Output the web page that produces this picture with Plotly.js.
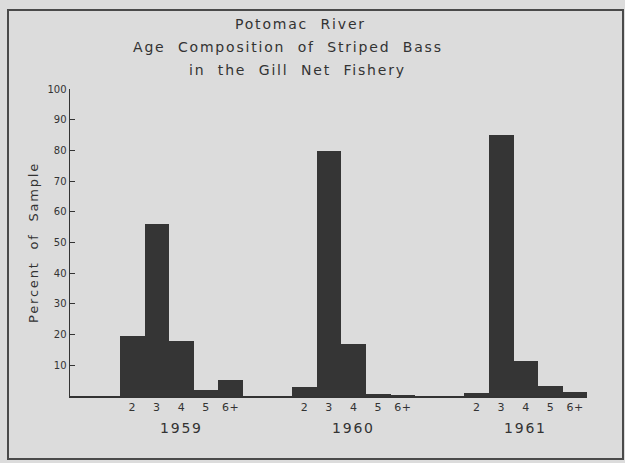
<!DOCTYPE html>
<html>
<head>
<meta charset="utf-8">
<script src="https://cdn.plot.ly/plotly-3.0.1.min.js"></script>
<style>
html,body{margin:0;padding:0;background:#dcdcdc;}
#chart{width:625px;height:463px;}
.annotation-text{letter-spacing:1.8px;}
.ytitle{letter-spacing:1.8px;}
.xtick text{letter-spacing:0.5px;}
</style>
</head>
<body>
<div id="chart"></div>
<script>
const ages = ["2", "3", "4", "5", "6+"];
const years = ["1959", "1960", "1961"];
const pct1959 = [19.5, 56, 18, 2, 5.2];
const pct1960 = [3, 79.8, 17, 0.8, 0.4];
const pct1961 = [1, 85, 11.4, 3.4, 1.4];
const yTicks = [10, 20, 30, 40, 50, 60, 70, 80, 90, 100];
const titleLines = ["Potomac  River", "Age  Composition  of  Striped  Bass", "in  the  Gill  Net  Fishery"];

const series = [pct1959, pct1960, pct1961];
const groupGap = 7; // slots per group incl. gap
const xs = [], ys = [], tickvals = [], ticktext = [];
series.forEach((vals, g) => {
  vals.forEach((v, i) => {
    xs.push(g * groupGap + i);
    ys.push(v);
    tickvals.push(g * groupGap + i);
    ticktext.push(ages[i]);
  });
});

const ink = "#333333";
const font = {family: "DejaVu Sans", color: ink};

const annotations = [];
const titleY = [24, 47, 70];
const titleX = [300, 288, 297];
titleLines.forEach((t, k) => {
  annotations.push({
    text: t, xref: "paper", yref: "paper",
    x: (titleX[k] - 70) / 517, y: (396 - titleY[k]) / 307,
    xanchor: "center", yanchor: "middle", showarrow: false,
    font: Object.assign({}, font, {size: 14})
  });
});
years.forEach((yr, g) => {
  annotations.push({
    text: yr, xref: "x", yref: "paper",
    x: g * groupGap + 2, y: (396 - 428) / 307,
    xanchor: "center", yanchor: "middle", showarrow: false,
    font: Object.assign({}, font, {size: 14})
  });
});

const data = [{
  type: "bar", x: xs, y: ys, width: 1,
  marker: {color: "#353535", line: {width: 0}},
  hoverinfo: "x+y"
}];

const layout = {
  width: 625, height: 463,
  paper_bgcolor: "#dcdcdc", plot_bgcolor: "#dcdcdc",
  margin: {l: 70, r: 38, t: 89, b: 67},
  showlegend: false,
  bargap: 0,
  font: font,
  xaxis: {
    range: [-2.53, 18.48], tickvals: tickvals, ticktext: ticktext,
    showgrid: false, zeroline: false, showline: true, linecolor: ink, linewidth: 1.5,
    ticks: "", tickfont: {family: "DejaVu Sans", size: 11, color: ink},
    fixedrange: true
  },
  yaxis: {
    range: [0, 100], tickvals: yTicks, ticktext: yTicks.map(String),
    showgrid: false, zeroline: false, showline: true, linecolor: ink, linewidth: 1.5,
    ticks: "inside", ticklen: 5, tickcolor: ink, tickwidth: 1.2,
    tickfont: {family: "DejaVu Sans", size: 10, color: ink},
    title: {text: "Percent  of  Sample", font: {family: "DejaVu Sans", size: 13, color: ink}, standoff: 6},
    fixedrange: true
  },
  annotations: annotations,
  shapes: [{
    type: "rect", xref: "paper", yref: "paper",
    x0: (8 - 70) / 517, x1: (623 - 70) / 517,
    y0: (396 - 459) / 307, y1: (396 - 10) / 307,
    line: {color: "#4a4a4a", width: 2}, fillcolor: "rgba(0,0,0,0)"
  }]
};

Plotly.newPlot("chart", data, layout, {displayModeBar: false, staticPlot: true});
</script>
</body>
</html>
